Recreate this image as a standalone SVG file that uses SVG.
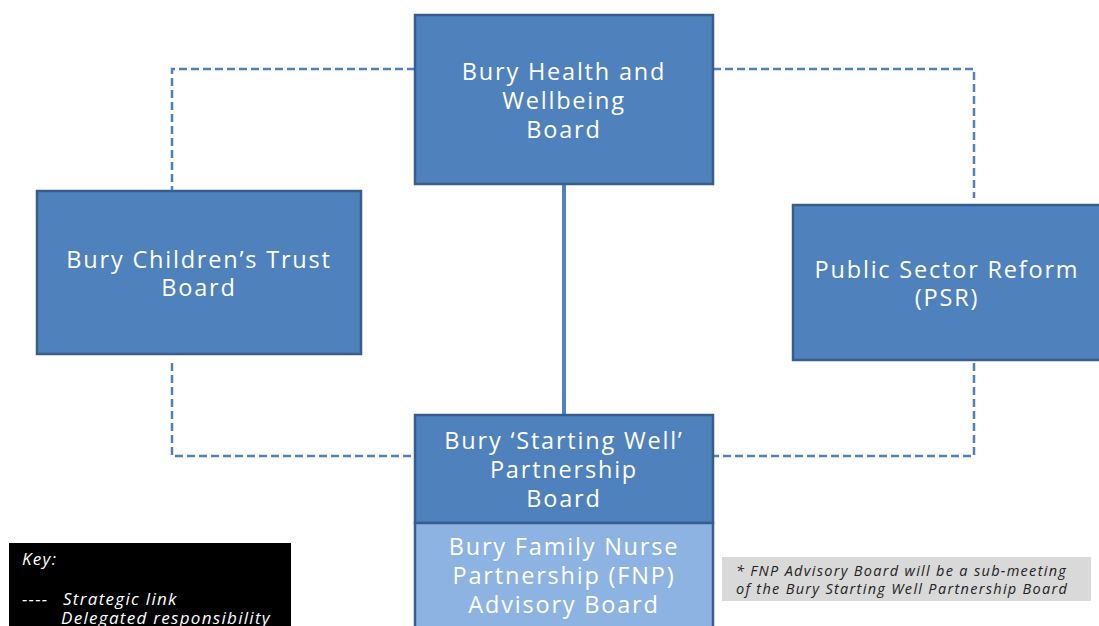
<svg xmlns="http://www.w3.org/2000/svg" width="1099" height="626" viewBox="0 0 1099 626">
  <style>
    .box { fill: #4f81bd; stroke: #385d8a; stroke-width: 2.5; }
    .sub { fill: #8db3e2; stroke: #385d8a; stroke-width: 2.5; }
    .lbl { font-family: "Open Sans", "Liberation Sans", sans-serif; font-size: 23.5px; letter-spacing: 1.8px; fill: #ffffff; text-anchor: middle; }
    .dash { fill: none; stroke: #4f81bd; stroke-width: 2.5; stroke-dasharray: 8 4; }
    .solid { fill: none; stroke: #4f81bd; stroke-width: 4; }
    .key { font-family: "Open Sans", "Liberation Sans", sans-serif; font-size: 17px; letter-spacing: 1.3px; font-style: italic; fill: #ffffff; }
    .note { font-family: "Open Sans", "Liberation Sans", sans-serif; font-size: 14.5px; letter-spacing: 1.3px; font-style: italic; fill: #222222; }
  </style>
  <rect width="1099" height="626" fill="#ffffff"/>

  <!-- connectors -->
  <g id="connectors">
    <path class="dash" d="M415 69 H172 V190"/>
    <path class="dash" d="M172 363 V456 H415"/>
    <path class="dash" d="M713 69 H974 V198"/>
    <path class="dash" d="M974 363 V456 H713"/>
    <path class="solid" d="M564 184 V415"/>
  </g>

  <g id="hwb">
    <rect class="box" x="415" y="15" width="298" height="169"/>
    <text class="lbl" x="564" y="80">Bury Health and</text>
    <text class="lbl" x="564" y="109">Wellbeing</text>
    <text class="lbl" x="564" y="138">Board</text>
  </g>

  <g id="childrens-trust">
    <rect class="box" x="37" y="191" width="324" height="163"/>
    <text class="lbl" x="199" y="268">Bury Children’s Trust</text>
    <text class="lbl" x="199" y="296">Board</text>
  </g>

  <g id="psr">
    <rect class="box" x="793" y="205" width="310" height="155"/>
    <text class="lbl" x="947" y="278">Public Sector Reform</text>
    <text class="lbl" x="947" y="306">(PSR)</text>
  </g>

  <g id="starting-well">
    <rect class="box" x="415" y="415" width="298" height="108"/>
    <text class="lbl" x="564" y="449">Bury ‘Starting Well’</text>
    <text class="lbl" x="564" y="478">Partnership</text>
    <text class="lbl" x="564" y="507">Board</text>
  </g>

  <g id="fnp">
    <rect class="sub" x="415" y="523" width="298" height="108"/>
    <text class="lbl" x="564" y="555">Bury Family Nurse</text>
    <text class="lbl" x="564" y="584">Partnership (FNP)</text>
    <text class="lbl" x="564" y="613">Advisory Board</text>
  </g>

  <g id="key">
    <rect x="9" y="543" width="282" height="90" fill="#000000"/>
    <text class="key" x="22" y="565">Key:</text>
    <text class="key" x="22" y="605">----</text>
    <text class="key" x="63" y="605">Strategic link</text>
    <text class="key" x="61" y="624">Delegated responsibility</text>
  </g>

  <g id="note">
    <rect x="722" y="557" width="369" height="44" fill="#d9d9d9"/>
    <text class="note" x="736" y="576">* FNP Advisory Board will be a sub-meeting</text>
    <text class="note" x="736" y="594">of the Bury Starting Well Partnership Board</text>
  </g>
</svg>
